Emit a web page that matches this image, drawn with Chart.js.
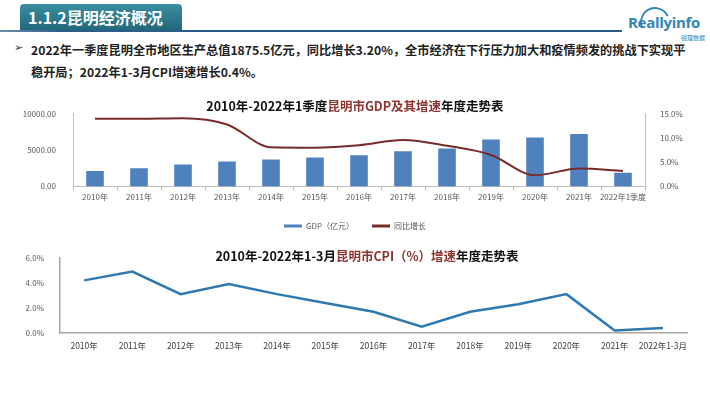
<!DOCTYPE html>
<html>
<head>
<meta charset="utf-8">
<script src="https://cdn.jsdelivr.net/npm/chart.js@4.4.1/dist/chart.umd.min.js"></script>
<style>
  body { margin: 0; background: #fff; font-family: "Noto Sans CJK SC", "Noto Sans", sans-serif; }
  #page { position: relative; width: 710px; height: 399px; overflow: hidden; background: #fff; }
  .abs { position: absolute; }
  #headBox { left: 20px; top: 4px; width: 162px; height: 26px; background: linear-gradient(#3a8ea0, #22687a);
    border-radius: 4px 4px 0 0; color: #fff; font-weight: bold; font-size: 16px; line-height: 26px; padding-left: 8px; box-sizing: border-box; }
  #headLine { left: 0; top: 30px; width: 622px; height: 2px; background: linear-gradient(to right, #6f8fae, #2b5c8a 10%, #2b5c8a); }
  #logo { left: 628px; top: 12px; font-size: 15px; font-weight: bold; color: #2f86b8; font-family: "Open Sans", sans-serif; letter-spacing: -0.3px; }
  #logoSub { left: 681px; top: 33px; font-size: 6px; color: #2f86b8; }
  #logoArc { left: 640px; top: 7px; width: 26px; height: 26px; border-radius: 50%; border: 2px solid transparent;
    border-top-color: #2f86b8; border-left-color: #2f86b8; transform: rotate(20deg); }
  .bullet { font-size: 12.2px; font-weight: bold; color: #222; white-space: nowrap; }
  .ctitle { font-size: 12.5px; font-weight: bold; color: #111; white-space: nowrap; transform: translateX(-50%); }
  .ctitle span { color: #8e3431; }
  canvas { position: absolute; }
</style>
</head>
<body>
<div id="page">
  <div id="headBox" class="abs">1.1.2昆明经济概况</div>
  <div id="headLine" class="abs"></div>
  <div id="logoArc" class="abs"></div>
  <div id="logo" class="abs">Reallyinfo</div>
  <div id="logoSub" class="abs">锐理数据</div>

  <div class="abs" style="left:14px;top:41px;font-size:11px;color:#333;font-family:'DejaVu Sans'">➢</div>
  <div class="abs bullet" style="left:31px;top:41px">2022年一季度昆明全市地区生产总值1875.5亿元，同比增长3.20%，全市经济在下行压力加大和疫情频发的挑战下实现平</div>
  <div class="abs bullet" style="left:31px;top:63px">稳开局；2022年1-3月CPI增速增长0.4%。</div>

  <canvas id="gdpChart" width="710" height="140" style="left:0;top:100px"></canvas>
  <canvas id="cpiChart" width="710" height="120" style="left:0;top:245px"></canvas>

  <div class="abs ctitle" style="left:355px;top:96px">2010年-2022年1季度<span>昆明市GDP及其增速</span>年度走势表</div>
  <div class="abs ctitle" style="left:367px;top:246px">2010年-2022年1-3月<span>昆明市CPI（%）增速</span>年度走势表</div>
</div>

<script>
const gdpYears = ["2010年", "2011年", "2012年", "2013年", "2014年", "2015年", "2016年",
  "2017年", "2018年", "2019年", "2020年", "2021年", "2022年1季度"];
const gdpValues = [2120, 2510, 3011, 3415, 3713, 3968, 4300, 4858, 5207, 6476, 6734, 7223, 1875.5];
const gdpGrowth = [14.0, 14.0, 14.1, 12.8, 8.1, 8.0, 8.5, 9.6, 8.4, 6.5, 2.3, 3.7, 3.2];

const cpiYears = ["2010年", "2011年", "2012年", "2013年", "2014年", "2015年", "2016年",
  "2017年", "2018年", "2019年", "2020年", "2021年", "2022年1-3月"];
const cpiValues = [4.2, 4.9, 3.1, 3.9, 3.1, 2.4, 1.7, 0.5, 1.7, 2.3, 3.1, 0.2, 0.4];

const tickFont = { family: "Noto Sans CJK SC", size: 8 };
const tickColor = "#595959";
const axisColor = "#bfbfbf";

const gdpCtx = document.querySelector("#gdpChart").getContext("2d");
const cpiCtx = document.querySelector("#cpiChart").getContext("2d");

new Chart(gdpCtx, {
  type: "bar",
  data: {
    labels: gdpYears,
    datasets: [
      {
        type: "bar",
        label: "GDP（亿元）",
        data: gdpValues,
        backgroundColor: "#4f81bd",
        yAxisID: "y",
        order: 1,
        barPercentage: 0.4,
        categoryPercentage: 1
      },
      {
        type: "line",
        label: "同比增长",
        data: gdpGrowth,
        borderColor: "#772c2b",
        backgroundColor: "#772c2b",
        borderWidth: 2,
        pointRadius: 0,
        cubicInterpolationMode: "monotone",
        yAxisID: "y1",
        order: 0
      }
    ]
  },
  options: {
    responsive: false,
    animation: false,
    layout: { padding: { top: 12, bottom: 0, left: 0, right: 0 } },
    plugins: {
      tooltip: { enabled: false },
      legend: {
        position: "bottom",
        labels: {
          font: tickFont,
          color: tickColor,
          boxWidth: 18,
          boxHeight: 3,
          padding: 18,
          sort: (a, b) => a.datasetIndex - b.datasetIndex,
          generateLabels: (chart) =>
            Chart.defaults.plugins.legend.labels.generateLabels(chart).map((l) => ({ ...l, lineWidth: 0 }))
        }
      }
    },
    scales: {
      x: {
        offset: true,
        grid: { display: true, drawOnChartArea: false, drawTicks: true, tickLength: 4, offset: true, color: axisColor },
        border: { color: axisColor },
        ticks: { font: tickFont, color: tickColor, padding: 2, maxRotation: 0, autoSkip: false }
      },
      y: {
        position: "left",
        min: 0,
        max: 10000,
        afterFit: (s) => { s.width = 73; },
        grid: { display: false },
        border: { color: axisColor },
        ticks: { stepSize: 5000, font: tickFont, color: tickColor, padding: 9, callback: (v) => v.toFixed(2) }
      },
      y1: {
        position: "right",
        min: 0,
        max: 15,
        afterFit: (s) => { s.width = 65; },
        grid: { display: false },
        border: { color: axisColor },
        ticks: { stepSize: 5, font: tickFont, color: tickColor, padding: 7, callback: (v) => v.toFixed(1) + "%" }
      }
    }
  }
});

new Chart(cpiCtx, {
  type: "line",
  data: {
    labels: cpiYears,
    datasets: [
      {
        label: "CPI增速",
        data: cpiValues,
        borderColor: "#2f78b0",
        borderWidth: 2.5,
        pointRadius: 0,
        tension: 0
      }
    ]
  },
  options: {
    responsive: false,
    animation: false,
    layout: { padding: { top: 11, bottom: 0, left: 0, right: 23 } },
    plugins: { legend: { display: false }, tooltip: { enabled: false } },
    scales: {
      x: {
        offset: true,
        afterFit: (s) => { s.height = 32; },
        grid: { display: false },
        border: { color: "#a6a6a6", width: 1.5 },
        ticks: { font: { family: "Noto Sans CJK SC", size: 8.5 }, color: "#404040", padding: 0, maxRotation: 0, autoSkip: false }
      },
      y: {
        min: 0,
        max: 6,
        afterFit: (s) => { s.width = 60; },
        grid: { display: false },
        border: { color: "#a6a6a6", width: 1.5 },
        ticks: { stepSize: 2, font: tickFont, color: tickColor, padding: 8, callback: (v) => v.toFixed(1) + "%" }
      }
    }
  }
});
</script>
</body>
</html>
